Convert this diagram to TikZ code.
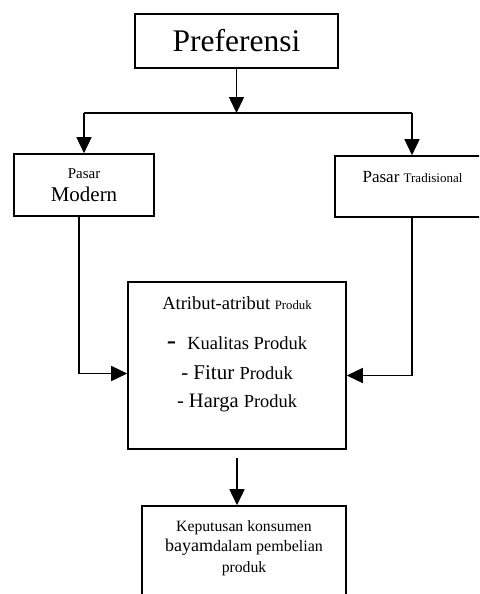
\documentclass[tikz,border=0pt]{standalone}
\usepackage{fontspec}
\setmainfont{Liberation Serif}
\usetikzlibrary{arrows.meta,positioning}

\newcommand{\fs}[2]{\fontsize{#1}{#2}\selectfont}

\begin{document}
\begin{tikzpicture}[x=1pt,y=-1pt,line width=1.6pt,
            box/.style={draw,rectangle,inner sep=0pt,align=center},
            arr/.style={-{Triangle[width=15pt,length=16pt]}}]
            \useasboundingbox (0,0) rectangle (479,594);
            \clip (0,0) rectangle (479,594);
            \node[box, minimum width=203pt, minimum height=54pt, font=\fs{31.5}{36}] (pref) at (236.5,41) {Preferensi};
            \node[box, minimum width=140pt, minimum height=62pt, font=\fs{15}{22.5}] (modern) at (84,185) {Pasar\\\fs{21}{22.5}Modern};
            \node[box, minimum width=154pt, minimum height=61pt] (trad) at (412,186.5) {};
            \node (tradtxt) at (412.5,177) {\fs{17}{20}Pasar \fs{13}{20}Tradisional};
            \node[box, minimum width=218pt, minimum height=167pt] (attr) at (237,365.5) {};
            \node[align=center, font=\fs{18.5}{28}] (attrtxt) at (237,354) {Atribut-atribut \fs{12.8}{28}Produk\\[12pt]
                {\fs{28}{28}-}\hspace{11pt}Kualitas Produk\\[2pt]
                \fs{21}{28}- Fitur \fs{18.4}{28}Produk\\
                \fs{20.5}{28}- Harga \fs{18.4}{28}Produk};
            \node[box, minimum width=204pt, minimum height=110pt] (kep) at (244,561) {};
            \node[align=center, font=\fs{15.7}{20.5}] (keptxt) at (244,548) {Keputusan konsumen\\
                \fs{18}{20.5}bayam\fs{16}{20.5}dalam pembelian\\
                produk};
            \coordinate (split) at (236.5,113);
            \path[arr]
                (pref) edge (split)
                (split) edge [-] (split -| modern)
                (split) edge [-] (split -| trad);
            \draw[arr] (split -| modern) -- (modern);
            \draw[arr] (split -| trad) -- (trad);
            \draw[arr] ([xshift=-5pt]modern.south) |- ([yshift=-8pt]attr.west);
            \draw[arr] (trad.south) |- ([yshift=-10pt]attr.east);
            \draw[arr] ([yshift=-8pt]attr.south) -- (attr.south |- kep.north);
        \end{tikzpicture}
\end{document}
